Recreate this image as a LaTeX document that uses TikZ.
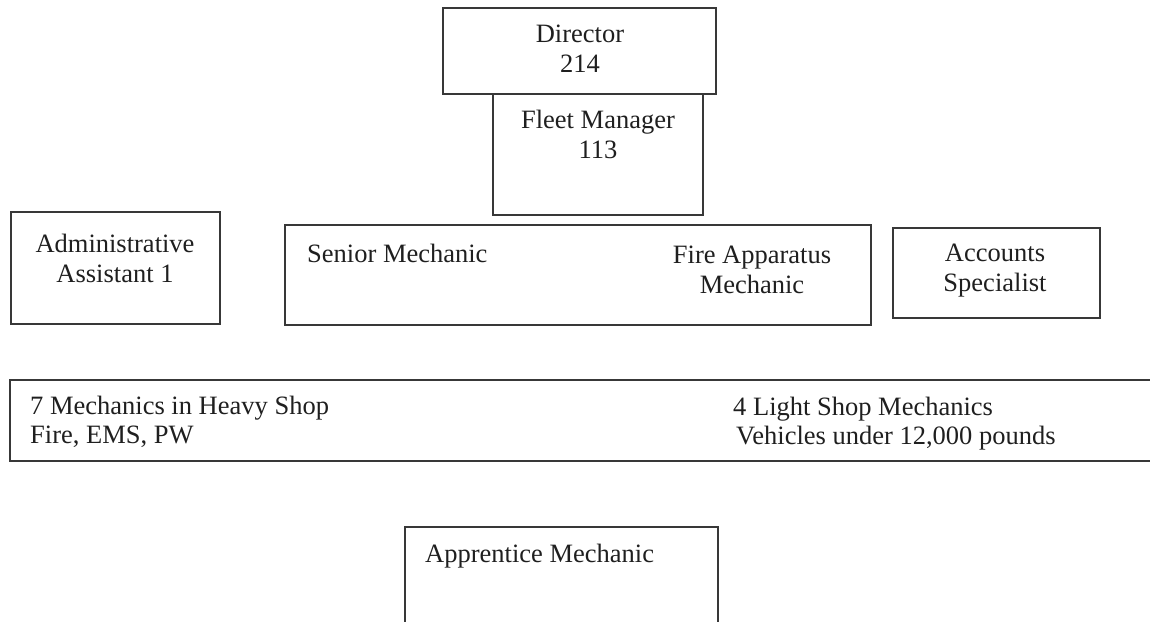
\documentclass[tikz,border=0pt]{standalone}
\usepackage{fontspec}
\setmainfont{Liberation Serif}
\begin{document}
\begin{tikzpicture}[x=1pt,y=-1pt,
  box/.style={draw=black!78, line width=1.4pt, inner sep=0pt, rectangle},
  txt/.style={inner sep=0pt, font=\fontsize{26.5}{30}\selectfont, text=black!88},
  ctxt/.style={txt, align=center},
  ltxt/.style={txt, anchor=west}]
\useasboundingbox (0,0) rectangle (1150,621);

% boxes (centre, width, height in picture units)
\node[box, minimum width=210pt, minimum height=121pt] (fmbox) at (598,154.5) {};
\node[box, fill=white, minimum width=273pt, minimum height=86pt] (dirbox) at (579.5,51) {};
\node[box, minimum width=209pt, minimum height=112pt] (adminbox) at (115.5,268) {};
\node[box, minimum width=586pt, minimum height=100pt] (mechbox) at (578,275) {};
\node[box, minimum width=207pt, minimum height=90pt] (accbox) at (996.5,273) {};
\node[box, minimum width=1160pt, minimum height=81pt] (shopbox) at (590,420.5) {};
\node[box, minimum width=313pt, minimum height=123pt] (apprbox) at (561.5,588.5) {};

% labels
\node[ctxt] (director) at (580,49) {Director\\214};
\node[ctxt] (fleet) at (598,134) {Fleet Manager\\113};
\node[ctxt] (admin) at (115,258) {Administrative\\Assistant 1};
\node[ctxt] (accounts) at (995,271) {Accounts\\Specialist};
\node[ltxt] (senior) at (307,253) {Senior Mechanic};
\node[ctxt] (fire) at (752,270) {Fire Apparatus\\Mechanic};
\node[ltxt] (heavy) at (30,408) {7 Mechanics in Heavy Shop};
\node[ltxt] (heavy2) at (30,437) {Fire, EMS, PW};
\node[ltxt] (light) at (733,409) {4 Light Shop Mechanics};
\node[ltxt] (light2) at (736,438) {Vehicles under 12,000 pounds};
\node[ltxt] (appr) at (425,556) {Apprentice Mechanic};
\end{tikzpicture}
\end{document}
